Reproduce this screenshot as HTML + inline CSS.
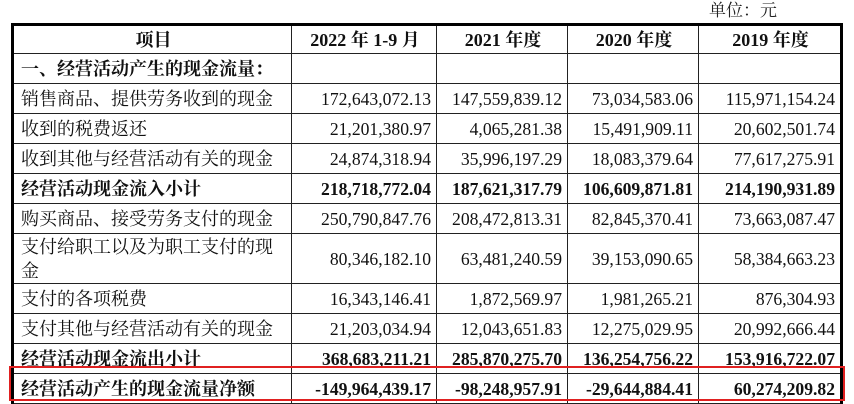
<!DOCTYPE html>
<html><head><meta charset="utf-8"><style>
body{margin:0;width:854px;height:403px;background:#fff;overflow:hidden;position:relative;font-family:"Liberation Serif","Noto Serif CJK SC",serif;color:#111}
.unit{position:absolute;left:709px;top:0;font-size:17px;line-height:22px;color:#222}
table{position:absolute;left:11px;top:23px;border-collapse:collapse;table-layout:fixed;border:3px solid #000;border-bottom:none}
td{border:1px solid #222;font-size:18px;padding:0 5px 0 7px;height:29px;line-height:20px;white-space:nowrap;overflow:hidden}
td.n{text-align:right;padding-right:5px;font-size:17.6px}
tr.b td{font-weight:bold}
tr.h td{text-align:center;font-weight:bold;height:27px}
td.w{white-space:normal;line-height:24px}
.red{position:absolute;left:9px;top:366px;width:832px;height:31px;border:2px solid #e02020}
</style></head><body>
<div class="unit">单位：元</div>
<table>
<colgroup><col style="width:279px"><col style="width:145px"><col style="width:131px"><col style="width:131px"><col style="width:143px"></colgroup>
<tr class="h"><td>项目</td><td>2022 年 1-9 月</td><td>2021 年度</td><td>2020 年度</td><td>2019 年度</td></tr>
<tr class="b"><td>一、经营活动产生的现金流量：</td><td></td><td></td><td></td><td></td></tr>
<tr><td>销售商品、提供劳务收到的现金</td><td class="n">172,643,072.13</td><td class="n">147,559,839.12</td><td class="n">73,034,583.06</td><td class="n">115,971,154.24</td></tr>
<tr><td>收到的税费返还</td><td class="n">21,201,380.97</td><td class="n">4,065,281.38</td><td class="n">15,491,909.11</td><td class="n">20,602,501.74</td></tr>
<tr><td>收到其他与经营活动有关的现金</td><td class="n">24,874,318.94</td><td class="n">35,996,197.29</td><td class="n">18,083,379.64</td><td class="n">77,617,275.91</td></tr>
<tr class="b"><td>经营活动现金流入小计</td><td class="n">218,718,772.04</td><td class="n">187,621,317.79</td><td class="n">106,609,871.81</td><td class="n">214,190,931.89</td></tr>
<tr><td>购买商品、接受劳务支付的现金</td><td class="n">250,790,847.76</td><td class="n">208,472,813.31</td><td class="n">82,845,370.41</td><td class="n">73,663,087.47</td></tr>
<tr><td class="w" style="height:49px">支付给职工以及为职工支付的现<br>金</td><td class="n">80,346,182.10</td><td class="n">63,481,240.59</td><td class="n">39,153,090.65</td><td class="n">58,384,663.23</td></tr>
<tr><td style="height:27px">支付的各项税费</td><td class="n">16,343,146.41</td><td class="n">1,872,569.97</td><td class="n">1,981,265.21</td><td class="n">876,304.93</td></tr>
<tr><td>支付其他与经营活动有关的现金</td><td class="n">21,203,034.94</td><td class="n">12,043,651.83</td><td class="n">12,275,029.95</td><td class="n">20,992,666.44</td></tr>
<tr class="b"><td style="height:26px">经营活动现金流出小计</td><td class="n">368,683,211.21</td><td class="n">285,870,275.70</td><td class="n">136,254,756.22</td><td class="n">153,916,722.07</td></tr>
<tr class="b"><td>经营活动产生的现金流量净额</td><td class="n">-149,964,439.17</td><td class="n">-98,248,957.91</td><td class="n">-29,644,884.41</td><td class="n">60,274,209.82</td></tr>
</table>
<div class="red"></div>
</body></html>
